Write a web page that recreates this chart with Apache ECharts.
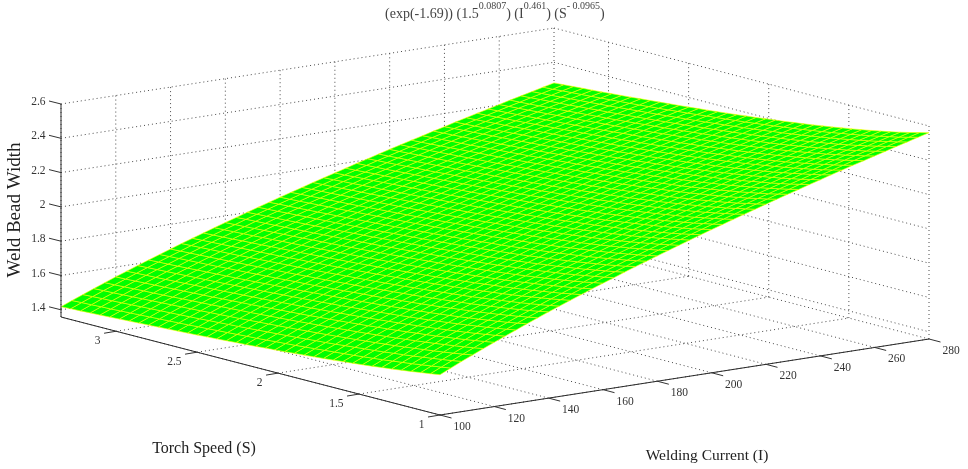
<!DOCTYPE html>
<html><head><meta charset="utf-8">
<style>html,body{margin:0;padding:0;background:#fff}#c{width:968px;height:469px}</style>
<script src="https://cdn.jsdelivr.net/npm/echarts@6/dist/echarts.min.js"></script>
</head><body><div id="c"></div>
<script>
const currents=[100,104,108,112,116,120,124,128,132,136,140,144,148,152,156,160,164,168,172,176,180,184,188,192,196,200,204,208,212,216,220,224,228,232,236,240,244,248,252,256,260,264,268,272,276,280];
const speeds=[1,1.06,1.12,1.18,1.24,1.3,1.36,1.42,1.48,1.54,1.6,1.66,1.72,1.78,1.84,1.9,1.96,2.02,2.08,2.14,2.2,2.26,2.32,2.38,2.44,2.5,2.56,2.62,2.68,2.74,2.8,2.86,2.92,2.98,3.04,3.1,3.16,3.22,3.28,3.34];
// Estimated values: one row per speed, one column per current.
const beadWidth=[
[1.593,1.622,1.651,1.679,1.706,1.733,1.759,1.785,1.811,1.836,1.861,1.885,1.909,1.932,1.956,1.979,2.001,2.024,2.046,2.068,2.089,2.110,2.131,2.152,2.173,2.193,2.213,2.233,2.253,2.272,2.292,2.311,2.330,2.348,2.367,2.385,2.404,2.422,2.440,2.457,2.475,2.492,2.510,2.527,2.544,2.561],
[1.584,1.613,1.641,1.669,1.696,1.723,1.749,1.775,1.801,1.826,1.850,1.874,1.898,1.922,1.945,1.968,1.990,2.012,2.034,2.056,2.077,2.099,2.120,2.140,2.161,2.181,2.201,2.221,2.240,2.260,2.279,2.298,2.317,2.335,2.354,2.372,2.390,2.408,2.426,2.444,2.461,2.478,2.496,2.513,2.530,2.547],
[1.576,1.605,1.633,1.660,1.687,1.714,1.740,1.766,1.791,1.816,1.840,1.864,1.888,1.911,1.934,1.957,1.980,2.002,2.023,2.045,2.066,2.087,2.108,2.129,2.149,2.169,2.189,2.209,2.228,2.248,2.267,2.286,2.304,2.323,2.341,2.359,2.377,2.395,2.413,2.431,2.448,2.465,2.483,2.500,2.516,2.533],
[1.568,1.597,1.625,1.652,1.679,1.705,1.731,1.757,1.782,1.807,1.831,1.855,1.879,1.902,1.925,1.947,1.970,1.992,2.013,2.035,2.056,2.077,2.098,2.118,2.138,2.158,2.178,2.198,2.217,2.236,2.255,2.274,2.293,2.311,2.329,2.348,2.366,2.383,2.401,2.419,2.436,2.453,2.470,2.487,2.504,2.520],
[1.561,1.589,1.617,1.644,1.671,1.697,1.723,1.749,1.774,1.798,1.822,1.846,1.870,1.893,1.916,1.938,1.960,1.982,2.004,2.025,2.046,2.067,2.088,2.108,2.128,2.148,2.168,2.187,2.206,2.226,2.244,2.263,2.282,2.300,2.318,2.336,2.354,2.372,2.390,2.407,2.424,2.441,2.458,2.475,2.492,2.508],
[1.553,1.582,1.609,1.637,1.663,1.690,1.715,1.741,1.765,1.790,1.814,1.838,1.861,1.884,1.907,1.929,1.951,1.973,1.995,2.016,2.037,2.058,2.078,2.098,2.118,2.138,2.158,2.177,2.196,2.215,2.234,2.253,2.271,2.290,2.308,2.326,2.344,2.361,2.379,2.396,2.413,2.430,2.447,2.464,2.480,2.497],
[1.547,1.575,1.602,1.630,1.656,1.682,1.708,1.733,1.758,1.782,1.806,1.830,1.853,1.876,1.899,1.921,1.943,1.965,1.986,2.007,2.028,2.049,2.069,2.089,2.109,2.129,2.148,2.168,2.187,2.206,2.225,2.243,2.262,2.280,2.298,2.316,2.333,2.351,2.368,2.386,2.403,2.420,2.436,2.453,2.470,2.486],
[1.540,1.568,1.596,1.623,1.649,1.675,1.701,1.726,1.750,1.775,1.799,1.822,1.845,1.868,1.891,1.913,1.935,1.956,1.978,1.999,2.020,2.040,2.061,2.081,2.100,2.120,2.140,2.159,2.178,2.197,2.215,2.234,2.252,2.270,2.288,2.306,2.324,2.341,2.358,2.376,2.393,2.410,2.426,2.443,2.459,2.476],
[1.534,1.562,1.589,1.616,1.643,1.669,1.694,1.719,1.743,1.768,1.791,1.815,1.838,1.861,1.883,1.905,1.927,1.949,1.970,1.991,2.012,2.032,2.052,2.072,2.092,2.112,2.131,2.150,2.169,2.188,2.206,2.225,2.243,2.261,2.279,2.297,2.314,2.332,2.349,2.366,2.383,2.400,2.417,2.433,2.450,2.466],
[1.528,1.556,1.583,1.610,1.636,1.662,1.688,1.712,1.737,1.761,1.785,1.808,1.831,1.854,1.876,1.898,1.920,1.941,1.962,1.983,2.004,2.024,2.044,2.064,2.084,2.104,2.123,2.142,2.161,2.180,2.198,2.216,2.235,2.253,2.270,2.288,2.306,2.323,2.340,2.357,2.374,2.391,2.407,2.424,2.440,2.457],
[1.523,1.550,1.578,1.604,1.630,1.656,1.681,1.706,1.730,1.754,1.778,1.801,1.824,1.847,1.869,1.891,1.913,1.934,1.955,1.976,1.996,2.017,2.037,2.057,2.076,2.096,2.115,2.134,2.153,2.171,2.190,2.208,2.226,2.244,2.262,2.280,2.297,2.314,2.331,2.348,2.365,2.382,2.399,2.415,2.431,2.447],
[1.517,1.545,1.572,1.599,1.625,1.650,1.675,1.700,1.724,1.748,1.772,1.795,1.818,1.840,1.862,1.884,1.906,1.927,1.948,1.969,1.989,2.010,2.030,2.049,2.069,2.088,2.108,2.127,2.145,2.164,2.182,2.200,2.218,2.236,2.254,2.271,2.289,2.306,2.323,2.340,2.357,2.373,2.390,2.406,2.423,2.439],
[1.512,1.540,1.567,1.593,1.619,1.645,1.670,1.694,1.718,1.742,1.766,1.789,1.812,1.834,1.856,1.878,1.899,1.921,1.941,1.962,1.983,2.003,2.023,2.042,2.062,2.081,2.100,2.119,2.138,2.156,2.175,2.193,2.211,2.229,2.246,2.264,2.281,2.298,2.315,2.332,2.349,2.365,2.382,2.398,2.414,2.430],
[1.507,1.535,1.561,1.588,1.614,1.639,1.664,1.689,1.713,1.736,1.760,1.783,1.806,1.828,1.850,1.872,1.893,1.914,1.935,1.956,1.976,1.996,2.016,2.036,2.055,2.074,2.093,2.112,2.131,2.149,2.168,2.186,2.204,2.221,2.239,2.256,2.274,2.291,2.308,2.324,2.341,2.358,2.374,2.390,2.406,2.422],
[1.502,1.530,1.556,1.583,1.609,1.634,1.659,1.683,1.707,1.731,1.754,1.777,1.800,1.822,1.844,1.866,1.887,1.908,1.929,1.949,1.970,1.990,2.010,2.029,2.049,2.068,2.087,2.106,2.124,2.142,2.161,2.179,2.197,2.214,2.232,2.249,2.266,2.283,2.300,2.317,2.334,2.350,2.366,2.383,2.399,2.415],
[1.498,1.525,1.552,1.578,1.604,1.629,1.654,1.678,1.702,1.726,1.749,1.772,1.794,1.816,1.838,1.860,1.881,1.902,1.923,1.943,1.964,1.984,2.003,2.023,2.042,2.061,2.080,2.099,2.117,2.136,2.154,2.172,2.190,2.207,2.225,2.242,2.259,2.276,2.293,2.310,2.326,2.343,2.359,2.375,2.391,2.407],
[1.493,1.520,1.547,1.573,1.599,1.624,1.649,1.673,1.697,1.720,1.744,1.766,1.789,1.811,1.833,1.854,1.876,1.897,1.917,1.938,1.958,1.978,1.997,2.017,2.036,2.055,2.074,2.093,2.111,2.129,2.147,2.165,2.183,2.201,2.218,2.235,2.253,2.269,2.286,2.303,2.319,2.336,2.352,2.368,2.384,2.400],
[1.489,1.516,1.542,1.569,1.594,1.619,1.644,1.668,1.692,1.715,1.739,1.761,1.784,1.806,1.827,1.849,1.870,1.891,1.912,1.932,1.952,1.972,1.992,2.011,2.030,2.049,2.068,2.087,2.105,2.123,2.141,2.159,2.177,2.194,2.212,2.229,2.246,2.263,2.280,2.296,2.313,2.329,2.345,2.361,2.377,2.393],
[1.485,1.512,1.538,1.564,1.590,1.615,1.639,1.663,1.687,1.711,1.734,1.756,1.779,1.801,1.822,1.844,1.865,1.886,1.906,1.926,1.947,1.966,1.986,2.005,2.025,2.043,2.062,2.081,2.099,2.117,2.135,2.153,2.171,2.188,2.205,2.223,2.240,2.256,2.273,2.290,2.306,2.322,2.339,2.355,2.370,2.386],
[1.480,1.507,1.534,1.560,1.585,1.610,1.635,1.659,1.683,1.706,1.729,1.751,1.774,1.796,1.817,1.839,1.860,1.880,1.901,1.921,1.941,1.961,1.981,2.000,2.019,2.038,2.056,2.075,2.093,2.111,2.129,2.147,2.165,2.182,2.199,2.216,2.233,2.250,2.267,2.283,2.300,2.316,2.332,2.348,2.364,2.380],
[1.476,1.503,1.530,1.556,1.581,1.606,1.630,1.654,1.678,1.701,1.724,1.747,1.769,1.791,1.812,1.834,1.855,1.875,1.896,1.916,1.936,1.956,1.975,1.994,2.014,2.032,2.051,2.070,2.088,2.106,2.124,2.141,2.159,2.176,2.194,2.211,2.228,2.244,2.261,2.277,2.294,2.310,2.326,2.342,2.358,2.373],
[1.473,1.500,1.526,1.552,1.577,1.602,1.626,1.650,1.674,1.697,1.720,1.742,1.764,1.786,1.808,1.829,1.850,1.871,1.891,1.911,1.931,1.951,1.970,1.989,2.008,2.027,2.046,2.064,2.082,2.100,2.118,2.136,2.153,2.171,2.188,2.205,2.222,2.238,2.255,2.272,2.288,2.304,2.320,2.336,2.352,2.367],
[1.469,1.496,1.522,1.548,1.573,1.598,1.622,1.646,1.670,1.693,1.715,1.738,1.760,1.782,1.803,1.824,1.845,1.866,1.886,1.906,1.926,1.946,1.965,1.984,2.003,2.022,2.041,2.059,2.077,2.095,2.113,2.130,2.148,2.165,2.182,2.199,2.216,2.233,2.249,2.266,2.282,2.298,2.314,2.330,2.346,2.361],
[1.465,1.492,1.518,1.544,1.569,1.594,1.618,1.642,1.665,1.688,1.711,1.734,1.756,1.777,1.799,1.820,1.841,1.861,1.882,1.902,1.921,1.941,1.960,1.979,1.998,2.017,2.036,2.054,2.072,2.090,2.108,2.125,2.143,2.160,2.177,2.194,2.211,2.227,2.244,2.260,2.276,2.292,2.308,2.324,2.340,2.355],
[1.462,1.489,1.515,1.540,1.565,1.590,1.614,1.638,1.661,1.684,1.707,1.729,1.751,1.773,1.794,1.815,1.836,1.857,1.877,1.897,1.917,1.936,1.956,1.975,1.993,2.012,2.031,2.049,2.067,2.085,2.103,2.120,2.138,2.155,2.172,2.189,2.205,2.222,2.238,2.255,2.271,2.287,2.303,2.319,2.334,2.350],
[1.458,1.485,1.511,1.537,1.562,1.586,1.610,1.634,1.658,1.681,1.703,1.725,1.747,1.769,1.790,1.811,1.832,1.853,1.873,1.893,1.912,1.932,1.951,1.970,1.989,2.007,2.026,2.044,2.062,2.080,2.098,2.115,2.133,2.150,2.167,2.184,2.200,2.217,2.233,2.250,2.266,2.282,2.297,2.313,2.329,2.344],
[1.455,1.482,1.508,1.533,1.558,1.583,1.607,1.630,1.654,1.677,1.699,1.721,1.743,1.765,1.786,1.807,1.828,1.848,1.868,1.888,1.908,1.927,1.947,1.966,1.984,2.003,2.021,2.039,2.057,2.075,2.093,2.110,2.128,2.145,2.162,2.178,2.195,2.212,2.228,2.244,2.260,2.276,2.292,2.308,2.323,2.339],
[1.452,1.478,1.504,1.530,1.555,1.579,1.603,1.627,1.650,1.673,1.695,1.717,1.739,1.761,1.782,1.803,1.824,1.844,1.864,1.884,1.904,1.923,1.942,1.961,1.980,1.998,2.017,2.035,2.053,2.071,2.088,2.106,2.123,2.140,2.157,2.174,2.190,2.207,2.223,2.239,2.255,2.271,2.287,2.303,2.318,2.334],
[1.449,1.475,1.501,1.526,1.551,1.576,1.600,1.623,1.646,1.669,1.692,1.714,1.736,1.757,1.778,1.799,1.820,1.840,1.860,1.880,1.900,1.919,1.938,1.957,1.976,1.994,2.012,2.030,2.048,2.066,2.084,2.101,2.118,2.135,2.152,2.169,2.186,2.202,2.218,2.234,2.250,2.266,2.282,2.298,2.313,2.329],
[1.446,1.472,1.498,1.523,1.548,1.572,1.596,1.620,1.643,1.666,1.688,1.710,1.732,1.753,1.774,1.795,1.816,1.836,1.856,1.876,1.896,1.915,1.934,1.953,1.971,1.990,2.008,2.026,2.044,2.062,2.079,2.096,2.114,2.131,2.148,2.164,2.181,2.197,2.214,2.230,2.246,2.261,2.277,2.293,2.308,2.324],
[1.443,1.469,1.495,1.520,1.545,1.569,1.593,1.616,1.639,1.662,1.685,1.707,1.728,1.750,1.771,1.792,1.812,1.832,1.852,1.872,1.892,1.911,1.930,1.949,1.967,1.986,2.004,2.022,2.040,2.057,2.075,2.092,2.109,2.126,2.143,2.160,2.176,2.193,2.209,2.225,2.241,2.257,2.272,2.288,2.303,2.319],
[1.440,1.466,1.492,1.517,1.542,1.566,1.590,1.613,1.636,1.659,1.681,1.703,1.725,1.746,1.767,1.788,1.808,1.829,1.848,1.868,1.888,1.907,1.926,1.945,1.963,1.982,2.000,2.018,2.036,2.053,2.071,2.088,2.105,2.122,2.139,2.155,2.172,2.188,2.204,2.220,2.236,2.252,2.268,2.283,2.299,2.314],
[1.437,1.463,1.489,1.514,1.538,1.563,1.587,1.610,1.633,1.656,1.678,1.700,1.721,1.743,1.764,1.784,1.805,1.825,1.845,1.864,1.884,1.903,1.922,1.941,1.959,1.978,1.996,2.014,2.031,2.049,2.066,2.084,2.101,2.118,2.134,2.151,2.168,2.184,2.200,2.216,2.232,2.248,2.263,2.279,2.294,2.309],
[1.434,1.460,1.486,1.511,1.535,1.560,1.583,1.607,1.630,1.652,1.674,1.696,1.718,1.739,1.760,1.781,1.801,1.821,1.841,1.861,1.880,1.899,1.918,1.937,1.955,1.974,1.992,2.010,2.027,2.045,2.062,2.080,2.097,2.114,2.130,2.147,2.163,2.180,2.196,2.212,2.228,2.243,2.259,2.274,2.290,2.305],
[1.431,1.457,1.483,1.508,1.532,1.557,1.580,1.604,1.627,1.649,1.671,1.693,1.715,1.736,1.757,1.777,1.798,1.818,1.838,1.857,1.877,1.896,1.915,1.933,1.952,1.970,1.988,2.006,2.024,2.041,2.058,2.076,2.093,2.109,2.126,2.143,2.159,2.175,2.191,2.207,2.223,2.239,2.254,2.270,2.285,2.300],
[1.428,1.454,1.480,1.505,1.530,1.554,1.577,1.601,1.623,1.646,1.668,1.690,1.711,1.733,1.753,1.774,1.794,1.814,1.834,1.854,1.873,1.892,1.911,1.930,1.948,1.966,1.984,2.002,2.020,2.037,2.054,2.072,2.089,2.105,2.122,2.139,2.155,2.171,2.187,2.203,2.219,2.235,2.250,2.266,2.281,2.296],
[1.426,1.452,1.477,1.502,1.527,1.551,1.574,1.598,1.620,1.643,1.665,1.687,1.708,1.729,1.750,1.771,1.791,1.811,1.831,1.850,1.870,1.889,1.907,1.926,1.944,1.963,1.981,1.998,2.016,2.033,2.051,2.068,2.085,2.102,2.118,2.135,2.151,2.167,2.183,2.199,2.215,2.230,2.246,2.261,2.277,2.292],
[1.423,1.449,1.475,1.499,1.524,1.548,1.572,1.595,1.617,1.640,1.662,1.684,1.705,1.726,1.747,1.767,1.788,1.808,1.827,1.847,1.866,1.885,1.904,1.922,1.941,1.959,1.977,1.995,2.012,2.030,2.047,2.064,2.081,2.098,2.114,2.131,2.147,2.163,2.179,2.195,2.211,2.226,2.242,2.257,2.273,2.288],
[1.421,1.447,1.472,1.497,1.521,1.545,1.569,1.592,1.615,1.637,1.659,1.681,1.702,1.723,1.744,1.764,1.785,1.805,1.824,1.844,1.863,1.882,1.901,1.919,1.937,1.955,1.973,1.991,2.009,2.026,2.043,2.060,2.077,2.094,2.111,2.127,2.143,2.159,2.175,2.191,2.207,2.222,2.238,2.253,2.268,2.284],
[1.418,1.444,1.469,1.494,1.519,1.543,1.566,1.589,1.612,1.634,1.656,1.678,1.699,1.720,1.741,1.761,1.781,1.801,1.821,1.840,1.860,1.878,1.897,1.916,1.934,1.952,1.970,1.988,2.005,2.023,2.040,2.057,2.074,2.090,2.107,2.123,2.140,2.156,2.172,2.187,2.203,2.219,2.234,2.249,2.265,2.280]
];
const currentTicks=[100,120,140,160,180,200,220,240,260,280];
const speedTicks=[1,1.5,2,2.5,3];
const widthTicks=[1.4,1.6,1.8,2,2.2,2.4,2.6];
const titleParts=['(exp(-1.69)) (1.5','0.0807',') (I','0.461',') (S','- 0.0965',')'];
const zLabel='Weld Bead Width', sLabel='Torch Speed (S)', iLabel='Welding Current (I)';

const I0=100,I1=280,S0=1,S1=3.34,Z0=1.358,Z1=2.6;
function proj(I,S,z){
  const u=(I-I0)/(I1-I0), v=(S-S0)/(S1-S0);
  return [440+489*u-379*v+4*u*v, 415-76*u-98*v-(z-Z0)*171.5];
}
const FONT='"Liberation Serif","Times New Roman",serif';
const gridLines=[];
currentTicks.forEach(t=>{
  gridLines.push([[t,S0,Z0],[t,S1,Z0]]);
  gridLines.push([[t,S1,Z0],[t,S1,Z1]]);
});
speedTicks.forEach(t=>{
  gridLines.push([[I0,t,Z0],[I1,t,Z0]]);
  gridLines.push([[I1,t,Z0],[I1,t,Z1]]);
});
widthTicks.forEach(t=>{
  gridLines.push([[I0,S1,t],[I1,S1,t]]);
  gridLines.push([[I1,S1,t],[I1,S0,t]]);
});
const cells=[];
for(let r=0;r<speeds.length-1;r++)for(let c=0;c<currents.length-1;c++)cells.push([r,c]);

const axisLines=[
  [[I0,S1,Z0],[I0,S1,Z1]],
  [[I0,S0,Z0],[I0,S1,Z0]],
  [[I0,S0,Z0],[I1,S0,Z0]]
];
const axisItems=[];
axisLines.forEach(l=>axisItems.push({k:'line',l}));
widthTicks.forEach(t=>axisItems.push({k:'z',t}));
speedTicks.forEach(t=>axisItems.push({k:'s',t}));
currentTicks.forEach(t=>axisItems.push({k:'i',t}));
axisItems.push({k:'name',text:zLabel,p:[15,210],rot:Math.PI/2,size:19});
axisItems.push({k:'name',text:sLabel,p:[204,449],rot:0,size:16});
axisItems.push({k:'name',text:iLabel,p:[707,456],rot:0,size:15.5});

function pts(api,l){return l.map(p=>api.coord(proj(p[0],p[1],p[2])));}
function labelEl(text,x,y,align){
  return {type:'text',x,y,style:{text,fontFamily:FONT,fontSize:11.5,fill:'#333',align,verticalAlign:'middle'}};
}
function tickEl(a,dx,dy){
  return {type:'line',shape:{x1:a[0],y1:a[1],x2:a[0]+dx,y2:a[1]+dy},style:{stroke:'#333',lineWidth:1}};
}
const opt={
  animation:false,
  backgroundColor:'#fff',
  title:{left:380,top:-4,
    text:'{n|'+titleParts[0]+'}{s|'+titleParts[1]+'}{n|'+titleParts[2]+'}{s|'+titleParts[3]+'}{n|'+titleParts[4]+'}{s|'+titleParts[5]+'}{n|'+titleParts[6]+'}',
    textStyle:{fontFamily:FONT,fontWeight:'normal',rich:{
      n:{fontFamily:FONT,fontSize:14,color:'#444',lineHeight:20,verticalAlign:'bottom'},
      s:{fontFamily:FONT,fontSize:10,color:'#444',lineHeight:20,verticalAlign:'top'}
    }}},
  grid:{left:0,right:0,top:0,bottom:0},
  xAxis:{type:'value',min:0,max:968,show:false},
  yAxis:{type:'value',min:0,max:469,inverse:true,show:false},
  series:[
  {type:'custom',coordinateSystem:'cartesian2d',silent:true,z:1,progressive:0,
   data:gridLines.map((l,i)=>[i]),
   renderItem(p,api){
     const l=gridLines[api.value(0)], q=pts(api,l);
     return {type:'line',shape:{x1:q[0][0],y1:q[0][1],x2:q[1][0],y2:q[1][1]},
       style:{stroke:'#4a4a4a',lineWidth:1,lineDash:[1,3],fill:null}};
   }},
  {type:'custom',coordinateSystem:'cartesian2d',silent:true,z:2,progressive:0,
   data:cells,
   renderItem(p,api){
     const r=api.value(0),c=api.value(1);
     const q=pts(api,[[currents[c],speeds[r],beadWidth[r][c]],[currents[c+1],speeds[r],beadWidth[r][c+1]],
       [currents[c+1],speeds[r+1],beadWidth[r+1][c+1]],[currents[c],speeds[r+1],beadWidth[r+1][c]]]);
     return {type:'polygon',shape:{points:q},style:{fill:'#00ff00',stroke:'#ffff00',lineWidth:0.6}};
   }},
  {type:'custom',coordinateSystem:'cartesian2d',silent:true,z:3,progressive:0,
   data:axisItems.map((a,i)=>[i]),
   renderItem(p,api){
     const it=axisItems[api.value(0)];
     if(it.k==='line'){const q=pts(api,it.l);
       return {type:'line',shape:{x1:q[0][0],y1:q[0][1],x2:q[1][0],y2:q[1][1]},style:{stroke:'#2a2a2a',lineWidth:1}};}
     if(it.k==='name'){const q=api.coord(it.p);
       return {type:'text',x:q[0],y:q[1],rotation:it.rot,style:{text:it.text,fontFamily:FONT,fontSize:it.size,fill:'#222',align:'center',verticalAlign:'middle'}};}
     if(it.k==='z'){const a=api.coord(proj(I0,S1,it.t));
       return {type:'group',children:[tickEl(a,-12,-3),labelEl(String(it.t),a[0]-15.5,a[1]-2,'right')]};}
     if(it.k==='s'){const a=api.coord(proj(I0,it.t,Z0));
       return {type:'group',children:[tickEl(a,-12,2),labelEl(String(it.t),a[0]-15.5,a[1]+10,'right')]};}
     const a=api.coord(proj(it.t,S0,Z0));
     return {type:'group',children:[tickEl(a,11.5,3),labelEl(String(it.t),a[0]+22,a[1]+12,'center')]};
   }}
  ]
};
echarts.init(document.getElementById('c'),null,{renderer:'canvas'}).setOption(opt);
</script></body></html>
